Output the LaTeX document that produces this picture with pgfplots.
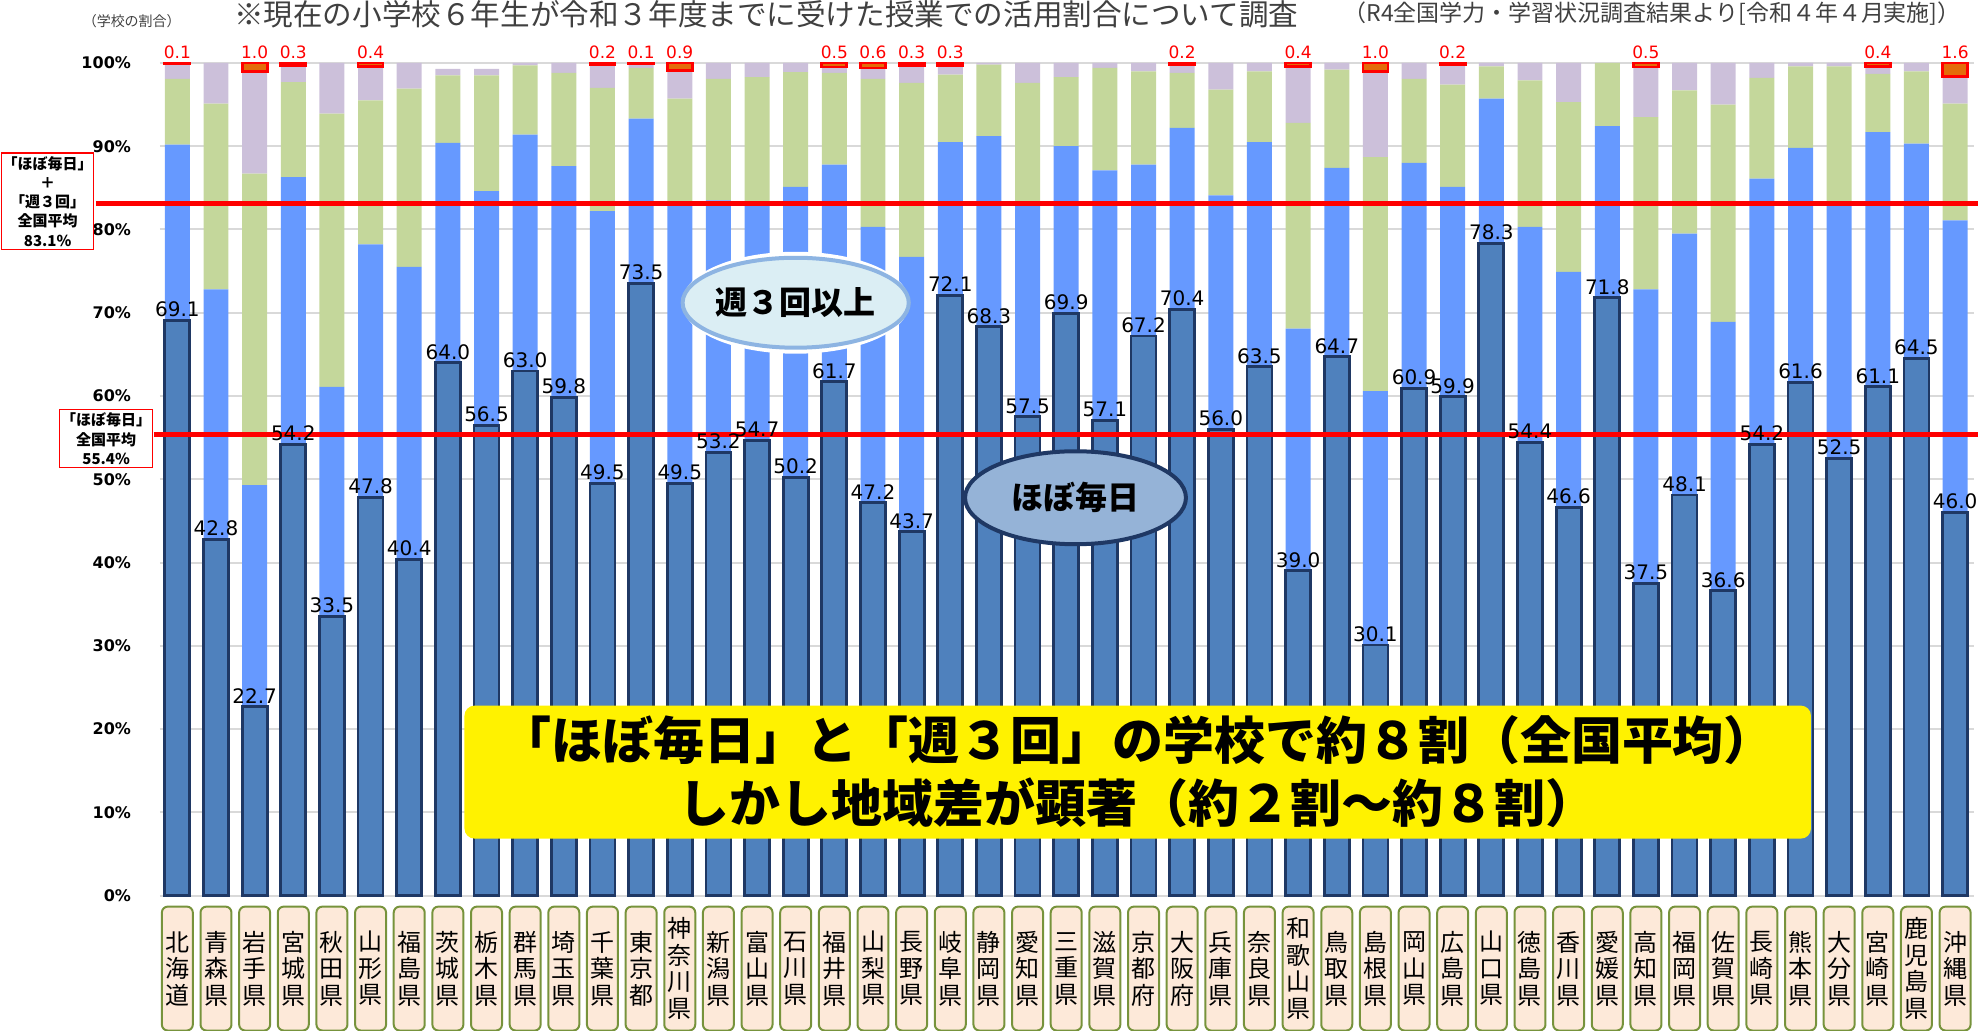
\documentclass[border=0pt]{standalone}
\usepackage{pgfplots}
\pgfplotsset{compat=1.18}
\usepackage{pgfplotstable}
\usepackage{fontspec}
\setmainfont{DejaVu Sans}
\newfontfamily\jp{Noto Sans CJK JP}
\usetikzlibrary{shapes.geometric}

\definecolor{dk}{HTML}{4F81BD}
\definecolor{dkb}{HTML}{1F3864}
\definecolor{lb}{HTML}{6699FF}
\definecolor{gr}{HTML}{C4D79B}
\definecolor{lav}{HTML}{CCC0DA}
\definecolor{org}{HTML}{E46C0A}
\definecolor{gridc}{HTML}{D9D9D9}
\definecolor{lblfill}{HTML}{FDE9D9}
\definecolor{lblborder}{HTML}{77933C}
\definecolor{tgray}{HTML}{404040}
\definecolor{ell1}{HTML}{DBEEF4}
\definecolor{ell1b}{HTML}{8DB4E2}
\definecolor{ell2}{HTML}{95B3D7}

% x d(ほぼ毎日) w(週3回) g l
\pgfplotstableread{
x d w g l
0 69.1 21.1 7.9 1.8
1 42.8 30.0 22.3 4.9
2 22.7 26.6 37.4 12.3
3 54.2 32.1 11.4 2.0
4 33.5 27.6 32.8 6.1
5 47.8 30.4 17.3 4.1
6 40.4 35.1 21.4 3.1
7 64.0 26.4 8.1 0.8
8 56.5 28.1 13.9 0.8
9 63.0 28.4 8.3 0.3
10 59.8 27.8 11.2 1.2
11 49.5 32.7 14.8 2.8
12 73.5 19.8 6.1 0.5
13 49.5 33.4 12.8 3.4
14 53.2 30.3 14.6 1.9
15 54.7 28.7 14.9 1.7
16 50.2 34.9 13.8 1.1
17 61.7 26.1 11.0 0.7
18 47.2 33.1 17.8 1.3
19 43.7 33.0 20.9 2.1
20 72.1 18.4 8.1 1.1
21 68.3 22.9 8.6 0.2
22 57.5 25.7 14.4 2.4
23 69.9 20.1 8.3 1.7
24 57.1 30.0 12.3 0.6
25 67.2 20.6 11.2 1.0
26 70.4 21.8 6.6 1.0
27 56.0 28.1 12.7 3.2
28 63.5 27.0 8.5 1.0
29 39.0 29.1 24.7 6.8
30 64.7 22.7 11.8 0.8
31 30.1 30.5 28.1 10.3
32 60.9 27.1 10.1 1.9
33 59.9 25.2 12.3 2.4
34 78.3 17.4 3.9 0.4
35 54.4 25.9 17.6 2.1
36 46.6 28.3 20.4 4.7
37 71.8 20.6 7.6 0.0
38 37.5 35.3 20.7 6.0
39 48.1 31.4 17.2 3.3
40 36.6 32.3 26.1 5.0
41 54.2 31.9 12.1 1.8
42 61.6 28.2 9.8 0.4
43 52.5 30.5 16.6 0.4
44 61.1 30.6 7.0 0.9
45 64.5 25.8 8.7 1.0
46 46.0 35.1 14.0 3.3
}\data

% top segment (red label values)
\pgfplotstableread{
x b r
0 99.9 0.1
2 99.0 1.0
3 99.7 0.3
5 99.6 0.4
11 99.8 0.2
12 99.9 0.1
13 99.1 0.9
17 99.5 0.5
18 99.4 0.6
19 99.7 0.3
20 99.7 0.3
26 99.8 0.2
29 99.6 0.4
31 99.0 1.0
33 99.8 0.2
38 99.5 0.5
44 99.6 0.4
46 98.4 1.6
}\redseg

\pgfplotsset{base/.style={scale only axis, width=907.6pt, height=416.5pt,
  xmin=-0.45, xmax=46.5, ymin=0, ymax=100, clip=false}}

\begin{document}
\begin{tikzpicture}
% axis 1: grid, ticks, stacked bars
\begin{axis}[base, ybar stacked, bar width=12.5pt,
  axis line style={draw=none}, major tick length=0pt,
  ymajorgrids, grid style={draw=gridc, line width=1pt},
  ytick={0,10,...,100},
  yticklabels={0\%,10\%,20\%,30\%,40\%,50\%,60\%,70\%,80\%,90\%,100\%},
  yticklabel style={font=\bfseries\fontsize{8}{9}\selectfont, xshift=-11pt},
  xtick={0,...,46},
  xticklabels={{北\\海\\道},{青\\森\\県},{岩\\手\\県},{宮\\城\\県},{秋\\田\\県},{山\\形\\県},{福\\島\\県},{茨\\城\\県},{栃\\木\\県},{群\\馬\\県},{埼\\玉\\県},{千\\葉\\県},{東\\京\\都},{神\\奈\\川\\県},{新\\潟\\県},{富\\山\\県},{石\\川\\県},{福\\井\\県},{山\\梨\\県},{長\\野\\県},{岐\\阜\\県},{静\\岡\\県},{愛\\知\\県},{三\\重\\県},{滋\\賀\\県},{京\\都\\府},{大\\阪\\府},{兵\\庫\\県},{奈\\良\\県},{和\\歌\\山\\県},{鳥\\取\\県},{島\\根\\県},{岡\\山\\県},{広\\島\\県},{山\\口\\県},{徳\\島\\県},{香\\川\\県},{愛\\媛\\県},{高\\知\\県},{福\\岡\\県},{佐\\賀\\県},{長\\崎\\県},{熊\\本\\県},{大\\分\\県},{宮\\崎\\県},{鹿\\児\\島\\県},{沖\\縄\\県}},
  xticklabel style={anchor=north, draw=lblborder, fill=lblfill, rounded corners=3pt,
    line width=1pt, minimum width=15.5pt, minimum height=62pt, inner sep=0pt,
    align=center, font=\jp\fontsize{12}{13.25}\selectfont, yshift=-5pt},
]
\addplot[fill=dk, draw=none] table[x=x,y=d]{\data};
\addplot[fill=lb, draw=none] table[x=x,y=w]{\data};
\addplot[fill=gr, draw=none] table[x=x,y=g]{\data};
\addplot[fill=lav, draw=none] table[x=x,y=l]{\data};
\end{axis}

% axis 2: top segments
\begin{axis}[base, hide axis, ybar stacked, bar width=12.5pt]
\addplot[draw=none, fill=none] table[x=x,y=b]{\redseg};
\addplot[fill=org, draw=red, line width=1.4pt] table[x=x,y=r]{\redseg};
\end{axis}

% axis 3: dark bars, labels, annotations
\begin{axis}[base, hide axis, /pgf/number format/assume math mode=true]
\coordinate (BL) at (axis cs:-4.589,-16.2);
\coordinate (TR) at (axis cs:46.593,107.56);
\addplot[ybar, bar shift=0pt, bar width=12.5pt, fill=dk, draw=dkb, line width=1.4pt,
  nodes near coords={\pgfmathprintnumber[fixed,fixed zerofill,precision=1,assume math mode=true]{\pgfplotspointmeta}},
  every node near coord/.append style={font=\fontsize{10}{12}\selectfont, text=black,
    anchor=south, inner sep=1pt}]
  table[x=x,y=d]{\data};
\addplot[red, line width=2.4pt, mark=none] coordinates {(-2.11,83.1) (46.6,83.1)};
\addplot[red, line width=2.4pt, mark=none] coordinates {(-0.61,55.4) (46.6,55.4)};
\addplot[draw=none, mark=none, nodes near coords, point meta=explicit symbolic,
  every node near coord/.append style={font=\fontsize{8.5}{10}\selectfont, text=red,
    anchor=base, inner sep=0pt}]
  coordinates {(0,100.5)[0.1] (2,100.5)[1.0] (3,100.5)[0.3] (5,100.5)[0.4]
  (11,100.5)[0.2] (12,100.5)[0.1] (13,100.5)[0.9] (17,100.5)[0.5] (18,100.5)[0.6]
  (19,100.5)[0.3] (20,100.5)[0.3] (26,100.5)[0.2] (29,100.5)[0.4] (31,100.5)[1.0]
  (33,100.5)[0.2] (38,100.5)[0.5] (44,100.5)[0.4] (46,100.5)[1.6]};

% left boxes
\node[draw=red, line width=0.6pt, fill=white, align=center,
  font=\jp\bfseries\fontsize{7.5}{9.6}\selectfont, minimum width=46pt,
  minimum height=48.5pt, inner sep=0pt] at (axis cs:-3.355,83.37)
  {「ほぼ毎日」\\＋\\「週３回」\\全国平均\\83.1\%};
\node[draw=red, line width=0.6pt, fill=white, align=center,
  font=\jp\bfseries\fontsize{7.5}{9.6}\selectfont, minimum width=46.5pt,
  minimum height=29pt, inner sep=0pt] at (axis cs:-1.842,54.86)
  {「ほぼ毎日」\\全国平均\\55.4\%};

% ellipses
\node[ellipse, draw=white, line width=6pt, minimum width=107.5pt, minimum height=45pt,
  inner sep=0pt] at (axis cs:16.0,71.2) {};
\node[ellipse, draw=ell1b, line width=2pt, fill=ell1, minimum width=107.5pt,
  minimum height=45pt, inner sep=0pt, font=\jp\bfseries\fontsize{16}{18}\selectfont]
  at (axis cs:16.0,71.2) {週３回以上};
\node[ellipse, draw=dkb, line width=2pt, fill=ell2, minimum width=110.5pt,
  minimum height=46.5pt, inner sep=0pt, font=\jp\bfseries\fontsize{16}{18}\selectfont]
  at (axis cs:23.24,47.78) {ほぼ毎日};

% yellow box
\node[fill=yellow, rounded corners=5pt, minimum width=673.5pt, minimum height=66.5pt,
  align=center, inner sep=0pt, font=\jp\bfseries\fontsize{25.5}{31.5}\selectfont]
  at (axis cs:24.85,14.83)
  {「ほぼ毎日」と「週３回」の学校で約８割（全国平均）\\しかし地域差が顕著（約２割～約８割）};

% titles
\node[font=\jp\fontsize{14.8}{16}\selectfont, text=tgray] at (axis cs:15.24,105.9)
  {※現在の小学校６年生が令和３年度までに受けた授業での活用割合について調査};
\node[font=\jp\fontsize{11.5}{13}\selectfont, text=tgray] at (axis cs:38.16,105.9)
  {（R4全国学力・学習状況調査結果より[令和４年４月実施]）};
\node[font=\jp\fontsize{7}{8}\selectfont, text=tgray] at (axis cs:-1.18,104.98)
  {（学校の割合）};
\end{axis}
\pgfresetboundingbox
\path[use as bounding box] (BL) rectangle (TR);
\end{tikzpicture}
\end{document}
